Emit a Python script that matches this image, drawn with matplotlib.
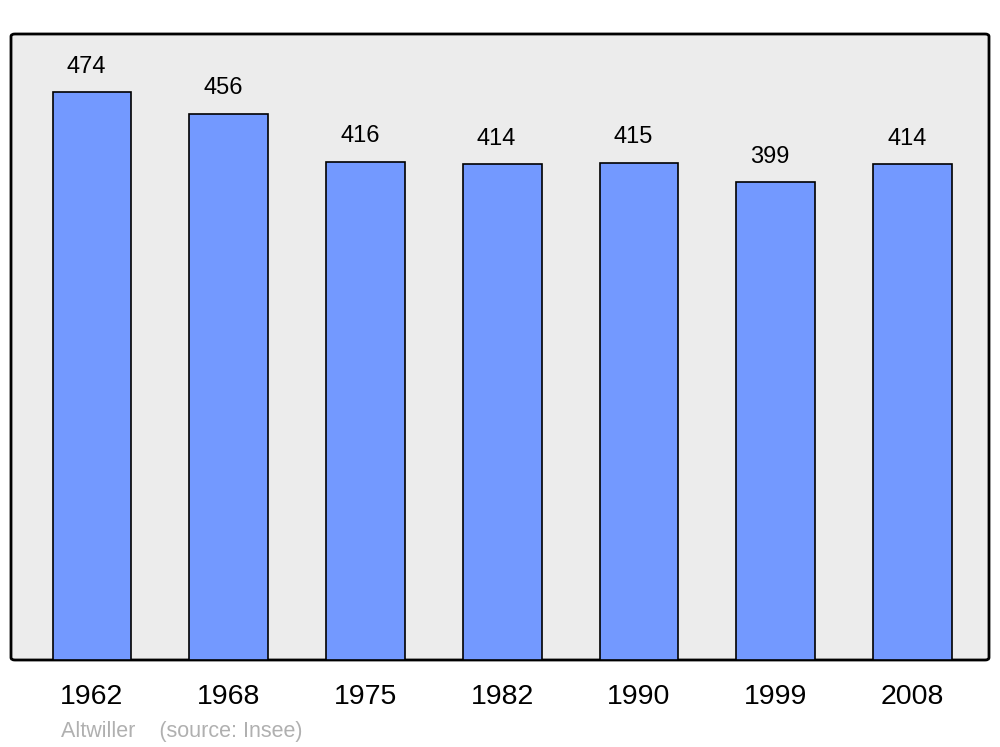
import matplotlib.pyplot as plt
import numpy as np
from matplotlib.patches import FancyBboxPatch

years = ["1962", "1968", "1975", "1982", "1990", "1999", "2008"]
population = [474, 456, 416, 414, 415, 399, 414]

fig = plt.figure(figsize=(10, 7.47), dpi=100)
ax = fig.add_axes([0.011, 1 - 660 / 747, 0.978, (660 - 34) / 747])
ax.set_facecolor("none")

# rounded grey background with black border
bg = FancyBboxPatch((0, 0), 1, 1, boxstyle="round,pad=0,rounding_size=0.004",
                    transform=ax.transAxes, facecolor="#ececec", edgecolor="black",
                    linewidth=2, zorder=0, clip_on=False)
ax.add_patch(bg)

x = np.arange(len(years))
ax.bar(x, population, width=0.575, color="#7399ff", edgecolor="black", linewidth=1.2, zorder=2)

for xi, v in zip(x, population):
    ax.annotate(str(v), (xi, v), xytext=(-4, 14), textcoords="offset points",
                ha="center", va="baseline", fontsize=17, family="Liberation Sans")

ax.set_xlim(-0.592, 6.56)
ax.set_ylim(0, 522.5)
ax.set_xticks(x)
ax.set_xticklabels(years, fontsize=20.5, family="Liberation Sans")
ax.tick_params(axis="x", length=0, pad=17.5)
ax.set_yticks([])
for s in ax.spines.values():
    s.set_visible(False)

fig.text(0.061, 1 - 732 / 747, "Altwiller    (source: Insee)", fontsize=15.5,
         color="#b0b0b0", family="Liberation Sans", va="center")

fig.savefig("out.png", dpi=100)
